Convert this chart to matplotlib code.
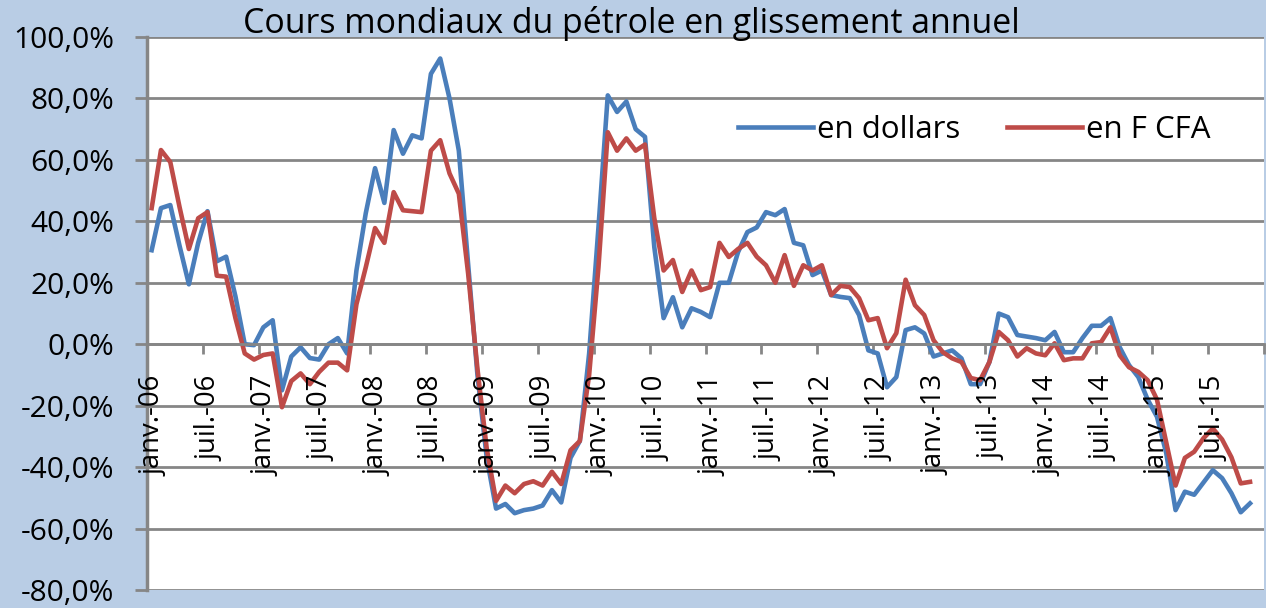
import matplotlib
matplotlib.use("Agg")
import matplotlib.pyplot as plt
import matplotlib.transforms as mtransforms
import numpy as np

plt.rcParams["font.family"] = ["Open Sans", "DejaVu Sans"]

# glissement annuel en %, janv.-06 a nov.-15 (mensuel)
dollars = [
    30.6, 44.3, 45.3, 32.0, 19.5, 33.0, 43.3, 27.0, 28.5, 15.6, 0.0, -0.3,
    5.5, 7.8, -15.0, -4.0, -1.0, -4.5, -5.0, 0.0, 2.0, -3.0, 24.0, 42.6,
    57.3, 46.0, 69.7, 62.0, 68.0, 67.0, 88.0, 93.0, 80.0, 63.0, 26.0, -10.0,
    -37.0, -53.5, -52.0, -55.0, -54.0, -53.5, -52.5, -47.5, -51.5, -37.0, -31.5, -3.0,
    38.0, 81.0, 75.6, 79.0, 70.0, 67.5, 31.6, 8.5, 15.3, 5.5, 11.7, 10.5,
    8.8, 20.0, 20.0, 30.0, 36.5, 38.0, 43.0, 42.0, 44.0, 33.0, 32.2, 22.5,
    24.0, 16.0, 15.4, 15.0, 9.5, -2.0, -3.0, -14.0, -10.7, 4.6, 5.5, 3.5,
    -4.0, -3.0, -2.0, -4.6, -13.0, -13.0, -5.8, 10.0, 8.8, 3.0, 2.5, 2.0,
    1.3, 4.0, -2.6, -2.6, 2.0, 6.0, 6.0, 8.5, -1.0, -6.8, -10.7, -18.0,
    -23.6, -35.5, -54.0, -48.0, -49.0, -45.0, -41.0, -43.6, -48.5, -54.7, -51.8,
]
fcfa = [
    44.3, 63.2, 59.3, 44.6, 31.0, 41.0, 43.0, 22.3, 22.0, 8.5, -3.0, -5.0,
    -3.5, -3.0, -20.5, -12.0, -9.5, -13.0, -9.0, -6.0, -6.0, -8.5, 13.0, 25.0,
    37.8, 33.0, 49.5, 43.6, 43.3, 43.0, 63.0, 66.4, 55.6, 49.0, 23.0, -8.0,
    -34.0, -51.0, -46.0, -48.5, -45.5, -44.6, -46.0, -41.5, -45.5, -34.5, -31.5, -10.0,
    25.0, 69.0, 63.0, 67.0, 63.0, 65.0, 41.0, 24.0, 27.4, 17.0, 24.0, 17.6,
    18.6, 33.0, 28.4, 31.0, 33.0, 28.5, 25.7, 20.0, 29.0, 19.0, 25.7, 24.0,
    25.7, 16.0, 19.0, 18.6, 15.0, 7.8, 8.5, -1.3, 3.6, 21.0, 12.7, 9.5,
    1.3, -2.6, -4.6, -5.8, -11.0, -11.7, -5.8, 4.0, 1.3, -4.0, -1.3, -3.0,
    -3.6, 0.3, -5.2, -4.6, -4.6, 0.3, 0.7, 5.5, -3.6, -7.5, -9.0, -11.7,
    -18.0, -32.0, -46.0, -37.0, -35.0, -30.6, -27.4, -31.0, -36.8, -45.3, -44.8,
]
n_months = 120
tick_labels = [
    "janv.-06", "juil.-06", "janv.-07", "juil.-07", "janv.-08", "juil.-08",
    "janv.-09", "juil.-09", "janv.-10", "juil.-10", "janv.-11", "juil.-11",
    "janv.-12", "juil.-12", "janv.-13", "juil.-13", "janv.-14", "juil.-14",
    "janv.-15", "juil.-15",
]
y_ticks = [-80, -60, -40, -20, 0, 20, 40, 60, 80, 100]

grid_col = "#868686"
fig = plt.figure(figsize=(12.66, 6.08), dpi=100, facecolor="#b9cde5")
ax = fig.add_axes([147 / 1266, 18 / 608, 1117 / 1266, 553 / 608])
ax.set_facecolor("white")

ax.plot(np.arange(len(dollars)), dollars, color="#4a7ebb", lw=3.3, label="en dollars")
ax.plot(np.arange(len(fcfa)), fcfa, color="#be4b48", lw=3.3, label="en F CFA")

ax.set_xlim(-0.5, n_months - 0.5)
ax.set_ylim(-80, 100)
ax.set_yticks(y_ticks)
ax.set_yticklabels([f"{v:.1f}%".replace(".", ",") for v in y_ticks])
ax.yaxis.grid(True, color=grid_col, lw=2)
ax.set_axisbelow(True)

for s in ["top", "right"]:
    ax.spines[s].set_visible(False)
ax.spines["left"].set_color(grid_col)
ax.spines["left"].set_linewidth(2.5)
ax.spines["bottom"].set_position(("data", 0))
ax.spines["bottom"].set_color(grid_col)
ax.spines["bottom"].set_linewidth(2)

ax.set_xticks(np.arange(-0.5, n_months, 6))
ax.set_xticklabels([])
ax.tick_params(axis="x", which="major", length=7, width=2, color=grid_col)
ax.tick_params(axis="y", length=8.5, width=2, color=grid_col, pad=15, labelsize=21.5)

# labels under the zero axis, rotated like Excel
lab_tr = mtransforms.offset_copy(ax.transData, fig=fig, x=2, y=-31, units="dots")
for i, lab in zip(range(0, n_months, 6), tick_labels):
    ax.text(i, 0, lab, rotation=90, ha="center", va="top", fontsize=19.8,
            transform=lab_tr, clip_on=False)

ax.legend(loc="center left", bbox_to_anchor=((738 - 147) / 1117, (590 - 130) / 553),
          ncol=2, frameon=False, fontsize=22.5, handlelength=2.4, handletextpad=0.12,
          columnspacing=1.5, borderpad=0, borderaxespad=0)

fig.text(0.499, 1 - 33 / 608, "Cours mondiaux du pétrole en glissement annuel",
         ha="center", va="baseline", fontsize=24.4)

plt.savefig("out.png", dpi=100, facecolor=fig.get_facecolor())
